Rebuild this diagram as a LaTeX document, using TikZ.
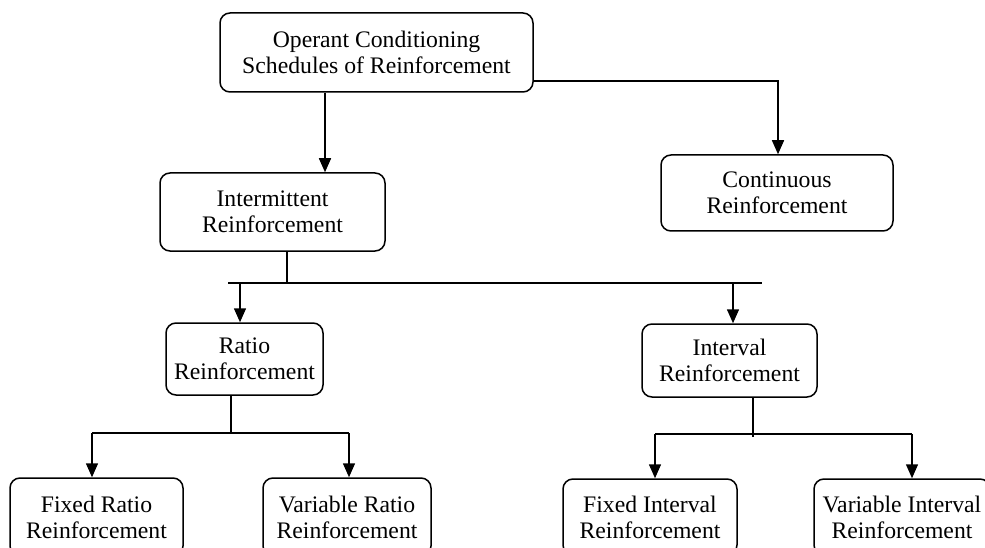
\documentclass[tikz,border=0pt]{standalone}
\usepackage{fontspec}
\setmainfont{Liberation Serif}
\usetikzlibrary{arrows.meta,calc}
\begin{document}
\begin{tikzpicture}[x=1pt,y=-1pt,
  box/.style={draw, line width=1.5pt, rounded corners=10pt, align=center, inner sep=0pt, font=\fontsize{23.7}{26}\selectfont},
  conn/.style={line width=1.5pt},
  arr/.style={line width=1.5pt, -{Triangle[width=12pt,length=14pt]}}]
\path[use as bounding box, fill=white] (0,0) rectangle (985,548);
\clip (0,0) rectangle (985,548);

\node[box, minimum width=313pt, minimum height=79pt] (top) at (376.5,52.5) {Operant Conditioning\\Schedules of Reinforcement};
\node[box, minimum width=225pt, minimum height=78pt] (inter) at (272.5,212) {Intermittent\\Reinforcement};
\node[box, minimum width=232pt, minimum height=76pt] (cont) at (777,193) {Continuous\\Reinforcement};
\node[box, minimum width=157pt, minimum height=72pt] (ratio) at (244.5,359) {Ratio\\Reinforcement};
\node[box, minimum width=175pt, minimum height=73pt] (interval) at (729.5,360.5) {Interval\\Reinforcement};
\node[box, minimum width=173pt, minimum height=78pt] (fr) at (96.5,517) {Fixed Ratio\\Reinforcement};
\node[box, minimum width=168pt, minimum height=78pt] (vr) at (347,517) {Variable Ratio\\Reinforcement};
\node[box, minimum width=174pt, minimum height=76pt] (fi) at (650,517) {Fixed Interval\\Reinforcement};
\node[box, minimum width=176pt, minimum height=76pt] (vi) at (902,517) {Variable Interval\\Reinforcement};

% top -> continuous
\coordinate (j1) at (778,81);
\draw[arr] (top.east |- j1) -- (j1) -- (cont.north -| j1);
% top -> intermittent
\coordinate (c1) at (325,0);
\draw[arr] (top.south -| c1) -- (inter.north -| c1);

% intermittent -> ratio / interval
\coordinate (b1) at (287,283);
\coordinate (bl) at (228,283);
\coordinate (br) at (762,283);
\coordinate (b2) at (240,283);
\coordinate (b3) at (733,283);
\draw[conn] (inter.south -| b1) -- (b1);
\draw[conn] (bl) -- (br);
\draw[arr] (b2) -- (ratio.north -| b2);
\draw[arr] (b3) -- (interval.north -| b3);

% ratio -> fixed / variable
\coordinate (r1) at (231,433);
\coordinate (rl) at (92,433);
\coordinate (rr) at (349,433);
\draw[conn] (ratio.south -| r1) -- (r1);
\draw[conn] (rl) -- (rr);
\draw[arr] (rl) -- (fr.north -| rl);
\draw[arr] (rr) -- (vr.north -| rr);

% interval -> fixed / variable
\coordinate (i1) at (753,437);
\coordinate (il) at (655,434);
\coordinate (ir) at (912,434);
\draw[conn] (interval.south -| i1) -- (i1);
\draw[conn] (il) -- (ir);
\draw[arr] (il) -- (fi.north -| il);
\draw[arr] (ir) -- (vi.north -| ir);
\end{tikzpicture}
\end{document}
